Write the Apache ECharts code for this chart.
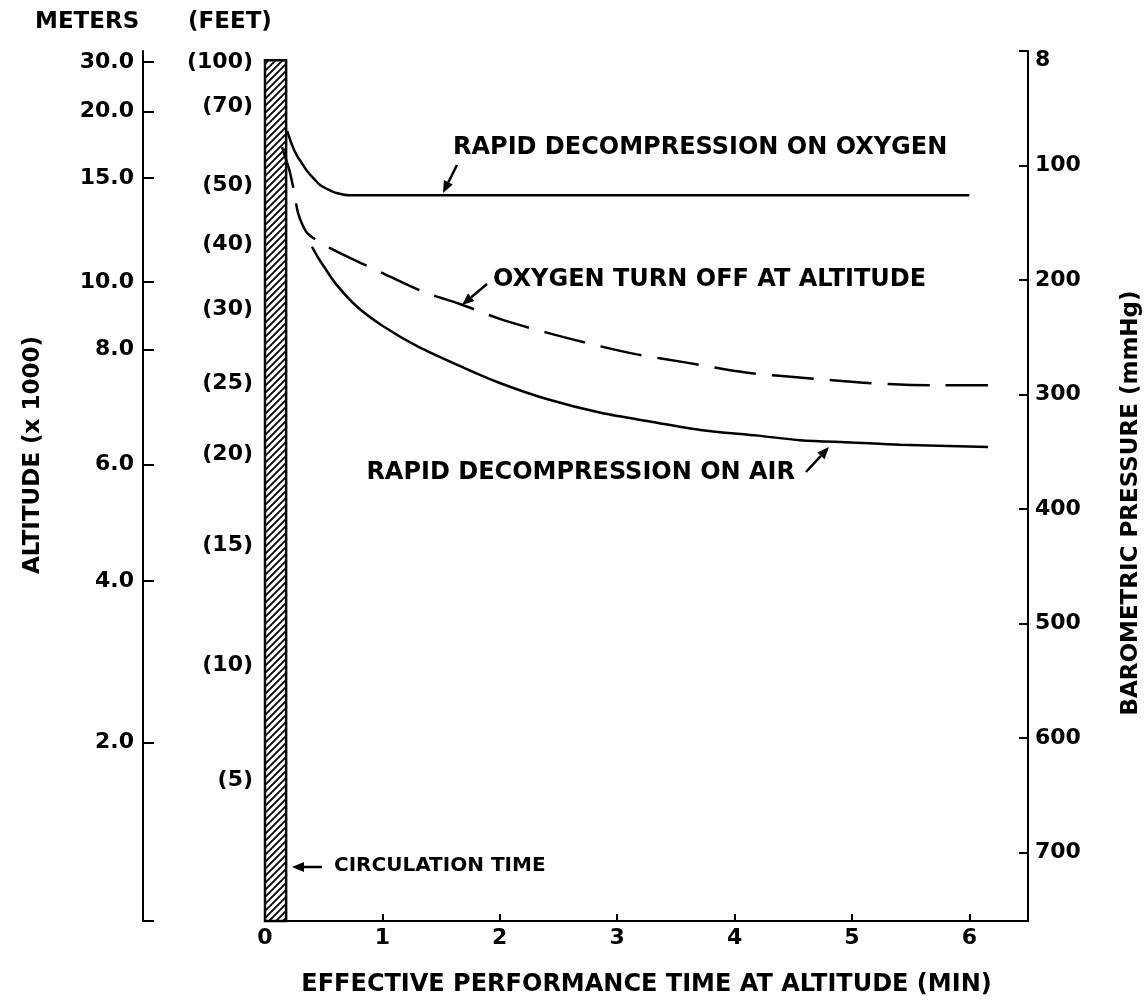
<!DOCTYPE html>
<html>
<head>
<meta charset="utf-8">
<script src="https://cdn.jsdelivr.net/npm/echarts@6/dist/echarts.min.js"></script>
<style>
  html, body { margin: 0; padding: 0; background: #fff; }
  #chart { width: 1148px; height: 1002px; }
</style>
</head>
<body>
<div id="chart"></div>
<script>
(function () {
  // y scale is barometric pressure (mmHg), linear, 0 at top, 760 at ground
  const MMHG_TICKS = [8, 100, 200, 300, 400, 500, 600, 700];
  const METER_LABELS = ['30.0', '20.0', '15.0', '10.0', '8.0', '6.0', '4.0', '2.0'];
  const METER_AT_MMHG = [9.5, 53, 111, 202, 261, 361, 463, 604];
  const FEET_LABELS = ['(100)', '(70)', '(50)', '(40)', '(30)', '(25)', '(20)', '(15)', '(10)', '(5)'];
  const FEET_AT_MMHG = [9.5, 48, 117, 169, 226, 290, 352, 432, 537, 637];
  const TIME_TICKS = [0, 1, 2, 3, 4, 5, 6];
  const CIRC_TIME = 0.18;

  // curves: time (min) vs pressure (mmHg)
  const O2_TIME = [0.19, 0.23, 0.27, 0.32, 0.36, 0.42, 0.47, 0.54, 0.61, 0.72, 1, 2, 3, 4, 5, 6];
  const O2_MMHG = [70, 82, 91, 99, 105, 112, 117, 121, 124, 126, 126, 126, 126, 126, 126, 126];
  const OFF_TIME = [0.145, 0.18, 0.21, 0.25, 0.28, 0.32, 0.36, 0.45, 0.55, 0.79, 0.94, 1.34, 1.66, 2.0, 2.4, 2.86, 3.17, 3.58, 4.11, 4.65, 5.13, 5.69, 6.2];
  const OFF_MMHG = [84, 95, 105, 124, 141, 152, 159, 166, 172, 184, 191, 210, 221, 234, 246, 258, 265, 272, 281, 286, 290, 292, 292];
  const AIR_TIME = [0.40, 0.45, 0.5, 0.6, 0.78, 1.0, 1.3, 1.7, 2.0, 2.4, 2.86, 3.3, 3.71, 4.2, 4.56, 5.0, 5.41, 6.16];
  const AIR_MMHG = [171, 180, 188, 203, 223, 240, 258, 277, 290, 304, 316, 324, 331, 336, 340, 342, 344, 346];

  const FONT = '"DejaVu Sans", "Liberation Sans", sans-serif';

  function pairs(xs, ys) {
    return xs.map((x, i) => [x, ys[i]]);
  }

  function labelFor(values, labels) {
    return function (v) {
      for (var i = 0; i < values.length; i++) {
        if (Math.abs(values[i] - v) < 1e-6) return labels[i];
      }
      return '';
    };
  }

  // diagonal "////" hatch for the circulation time bar
  function hatchPattern() {
    var c = document.createElement('canvas');
    c.width = 7; c.height = 7;
    var ctx = c.getContext('2d');
    ctx.fillStyle = '#fff';
    ctx.fillRect(0, 0, 7, 7);
    ctx.strokeStyle = '#000';
    ctx.lineWidth = 1.8;
    ctx.beginPath();
    ctx.moveTo(-1, 8); ctx.lineTo(8, -1);
    ctx.moveTo(-1, 1); ctx.lineTo(1, -1);
    ctx.moveTo(6, 8); ctx.lineTo(8, 6);
    ctx.stroke();
    return { image: c, repeat: 'repeat' };
  }

  function arrow(x1, y1, x2, y2) {
    var ang = Math.atan2(y2 - y1, x2 - x1);
    var hl = 12, hw = 5;
    var bx = x2 - hl * Math.cos(ang), by = y2 - hl * Math.sin(ang);
    var px = -Math.sin(ang) * hw, py = Math.cos(ang) * hw;
    return [
      { type: 'line', shape: { x1: x1, y1: y1, x2: bx, y2: by }, style: { stroke: '#000', lineWidth: 2.5 } },
      { type: 'polygon', shape: { points: [[x2, y2], [bx + px, by + py], [bx - px, by - py]] }, style: { fill: '#000' } }
    ];
  }

  function text(x, y, str, size, align, rot) {
    return {
      type: 'text', x: x, y: y, rotation: rot || 0,
      style: { text: str, font: 'bold ' + size + 'px ' + FONT, fill: '#000', align: align || 'left', verticalAlign: 'middle' }
    };
  }

  var axisLabelBase = { color: '#000', fontFamily: FONT, fontWeight: 'bold', fontSize: 22 };
  var blackLine = { show: true, onZero: false, lineStyle: { color: '#000', width: 2 } };

  var option = {
    backgroundColor: '#fff',
    animation: false,
    grid: { left: 265, right: 120, top: 51, bottom: 69, show: false },
    xAxis: {
      type: 'value', min: 0, max: 6.5, position: 'bottom',
      axisLine: blackLine,
      axisTick: { show: true, inside: true, length: 7, customValues: TIME_TICKS, lineStyle: { color: '#000', width: 2 } },
      axisLabel: Object.assign({ customValues: TIME_TICKS, margin: 6 }, axisLabelBase),
      splitLine: { show: false },
      name: 'EFFECTIVE PERFORMANCE TIME AT ALTITUDE (MIN)',
      nameLocation: 'middle', nameGap: 52,
      nameTextStyle: { color: '#000', fontFamily: FONT, fontWeight: 'bold', fontSize: 24 }
    },
    yAxis: [
      {
        // barometric pressure, right side
        type: 'value', position: 'right', min: 0, max: 760, inverse: true,
        axisLine: blackLine,
        axisTick: { show: true, inside: true, length: 9, customValues: [0].concat(MMHG_TICKS.slice(1), [760]), lineStyle: { color: '#000', width: 2 } },
        axisLabel: Object.assign({ customValues: MMHG_TICKS, margin: 7 }, axisLabelBase),
        splitLine: { show: false }
      },
      {
        // meters
        type: 'value', position: 'left', offset: 122, min: 0, max: 760, inverse: true,
        axisLine: blackLine,
        axisTick: { show: true, inside: true, length: 11, customValues: METER_AT_MMHG.concat([760]), lineStyle: { color: '#000', width: 2 } },
        axisLabel: Object.assign({ customValues: METER_AT_MMHG, margin: 9, formatter: labelFor(METER_AT_MMHG, METER_LABELS) }, axisLabelBase),
        splitLine: { show: false }
      },
      {
        // feet
        type: 'value', position: 'left', offset: 0, min: 0, max: 760, inverse: true,
        axisLine: { show: false },
        axisTick: { show: true, inside: true, length: 6, customValues: FEET_AT_MMHG, lineStyle: { color: '#000', width: 2 } },
        axisLabel: Object.assign({ customValues: FEET_AT_MMHG, margin: 12, formatter: labelFor(FEET_AT_MMHG, FEET_LABELS) }, axisLabelBase),
        splitLine: { show: false }
      }
    ],
    series: [
      {
        type: 'custom',
        silent: true,
        data: [[0, CIRC_TIME, MMHG_TICKS[0], 760]],
        encode: { x: [0, 1], y: [2, 3] },
        renderItem: function (params, api) {
          var p1 = api.coord([api.value(0), api.value(2)]);
          var p2 = api.coord([api.value(1), api.value(3)]);
          return {
            type: 'rect',
            shape: { x: p1[0], y: p1[1], width: p2[0] - p1[0], height: p2[1] - p1[1] },
            style: { fill: hatchPattern(), stroke: '#000', lineWidth: 2.5 }
          };
        }
      },
      {
        name: 'Rapid decompression on oxygen', type: 'line',
        data: pairs(O2_TIME, O2_MMHG), showSymbol: false, smooth: 0.3,
        lineStyle: { color: '#000', width: 2.5 }
      },
      {
        name: 'Oxygen turn off at altitude', type: 'line',
        data: pairs(OFF_TIME, OFF_MMHG), showSymbol: false, smooth: 0.3,
        lineStyle: { color: '#000', width: 2.5, type: [42, 16] }
      },
      {
        name: 'Rapid decompression on air', type: 'line',
        data: pairs(AIR_TIME, AIR_MMHG), showSymbol: false, smooth: 0.3,
        lineStyle: { color: '#000', width: 2.5 }
      }
    ],
    graphic: [
      text(35, 22, 'METERS', 23),
      text(188, 22, '(FEET)', 23),
      text(33, 455, 'ALTITUDE (x 1000)', 23, 'center', Math.PI / 2),
      text(1131, 503, 'BAROMETRIC PRESSURE (mmHg)', 23, 'center', Math.PI / 2),
      text(453, 148, 'RAPID DECOMPRESSION ON OXYGEN', 24),
      text(493, 280, 'OXYGEN TURN OFF AT ALTITUDE', 24),
      text(795, 473, 'RAPID DECOMPRESSION ON AIR', 24, 'right'),
      text(334, 866, 'CIRCULATION TIME', 20)
    ].concat(
      arrow(457, 165, 443, 193),
      arrow(487, 284, 462, 305),
      arrow(806, 472, 829, 447),
      arrow(322, 867, 292, 867)
    )
  };

  var myChart = echarts.init(document.getElementById('chart'), null, { renderer: 'canvas' });
  myChart.setOption(option);
  window.addEventListener('resize', myChart.resize);
})();
</script>
</body>
</html>
